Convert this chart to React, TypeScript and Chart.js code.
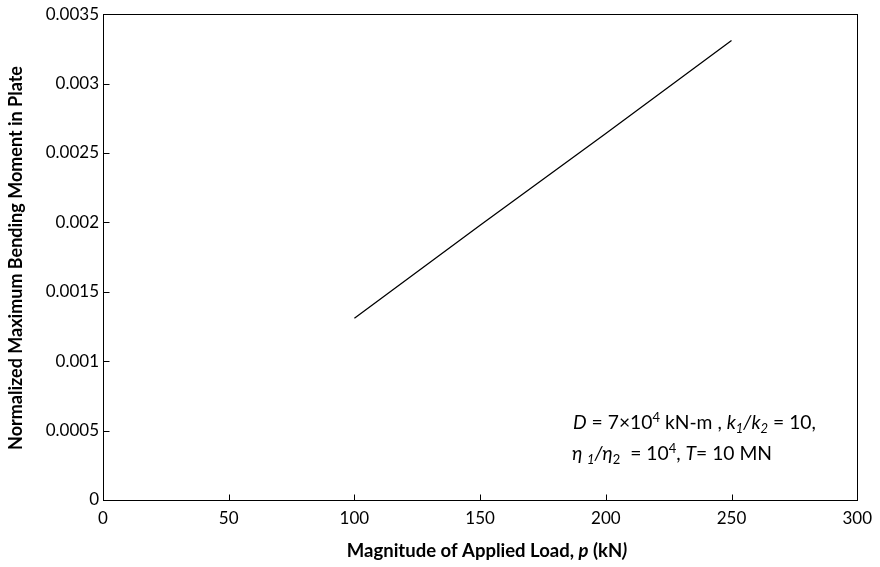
import React, { useEffect, useRef } from 'react';
import { Chart, registerables } from 'chart.js';

Chart.register(...registerables);

const loadKN = [100, 150, 200, 250];
const normMoment = [0.00131, 0.00198, 0.00264, 0.00331];
const xTickValues = [0, 50, 100, 150, 200, 250, 300];
const yTickValues = [0, 0.0005, 0.001, 0.0015, 0.002, 0.0025, 0.003, 0.0035];
const yTickLabels = ['0', '0.0005', '0.001', '0.0015', '0.002', '0.0025', '0.003', '0.0035'];

const FONT = 'Lato, "Open Sans", sans-serif';

type Seg = { t: string; i?: boolean; b?: boolean; s?: 'sup' | 'sub' };

const xTitle: Seg[] = [
  { t: 'Magnitude of Applied Load, ', b: true },
  { t: 'p', b: true, i: true },
  { t: ' (kN', b: true },
  { t: ')', b: true, i: true },
];
const yTitle = 'Normalized Maximum Bending Moment in Plate';
const noteLine1: Seg[] = [
  { t: 'D', i: true },
  { t: ' = 7×10' },
  { t: '4', s: 'sup' },
  { t: ' kN-m , ' },
  { t: 'k', i: true },
  { t: '1', i: true, s: 'sub' },
  { t: '/k', i: true },
  { t: '2', i: true, s: 'sub' },
  { t: ' = 10,' },
];
const noteLine2: Seg[] = [
  { t: 'η ', i: true },
  { t: '1', i: true, s: 'sub' },
  { t: '/η', i: true },
  { t: '2', s: 'sub' },
  { t: '  = 10' },
  { t: '4', s: 'sup' },
  { t: ', ' },
  { t: 'T', i: true },
  { t: '= 10 MN' },
];

function segFont(seg: Seg, size: number) {
  const sz = seg.s ? Math.round(size * 0.68) : size;
  return `${seg.i ? 'italic ' : ''}${seg.b ? 'bold ' : ''}${sz}px ${FONT}`;
}

function measureRich(ctx: CanvasRenderingContext2D, segs: Seg[], size: number) {
  let w = 0;
  for (const s of segs) {
    ctx.font = segFont(s, size);
    w += ctx.measureText(s.t).width;
  }
  return w;
}

function drawRich(ctx: CanvasRenderingContext2D, segs: Seg[], x: number, y: number, size: number) {
  ctx.textBaseline = 'alphabetic';
  ctx.textAlign = 'left';
  let cx = x;
  for (const s of segs) {
    ctx.font = segFont(s, size);
    let dy = 0;
    if (s.s === 'sup') dy = -size * 0.38;
    if (s.s === 'sub') dy = size * 0.2;
    ctx.fillText(s.t, cx, y + dy);
    cx += ctx.measureText(s.t).width;
  }
}

const decorPlugin = {
  id: 'decor',
  afterDraw(chart: any) {
    const ctx: CanvasRenderingContext2D = chart.ctx;
    const { left, right, top, bottom } = chart.chartArea;
    const xs = chart.scales.x;
    const ys = chart.scales.y;
    ctx.save();
    ctx.strokeStyle = '#000';
    ctx.lineWidth = 1;
    const L = Math.round(left) + 0.5;
    const R = Math.round(right) + 0.5;
    const T = Math.round(top) + 0.5;
    const B = Math.round(bottom) + 0.5;
    ctx.strokeRect(L, T, R - L, B - T);
    ctx.beginPath();
    for (const v of xTickValues) {
      const px = Math.round(xs.getPixelForValue(v)) + 0.5;
      ctx.moveTo(px, B);
      ctx.lineTo(px, B - 6);
    }
    for (const v of yTickValues) {
      const py = Math.round(ys.getPixelForValue(v)) + 0.5;
      ctx.moveTo(L, py);
      ctx.lineTo(L + 6, py);
    }
    ctx.stroke();

    ctx.fillStyle = '#000';
    // x title
    const xw = measureRich(ctx, xTitle, 18.5);
    drawRich(ctx, xTitle, 487 - xw / 2, 557, 18.5);
    // y title
    ctx.save();
    ctx.translate(22, 258);
    ctx.rotate(-Math.PI / 2);
    ctx.font = `bold 18px ${FONT}`;
    ctx.textAlign = 'center';
    ctx.textBaseline = 'alphabetic';
    ctx.fillText(yTitle, 0, 0);
    ctx.restore();
    // annotation
    drawRich(ctx, noteLine1, 573, 429, 19.3);
    drawRich(ctx, noteLine2, 572, 460, 19.3);
    ctx.restore();
  },
};

export default function App() {
  const ref = useRef<HTMLCanvasElement | null>(null);
  useEffect(() => {
    document.body.style.margin = '0';
    const canvas = ref.current!;
    const chart = new Chart(canvas, {
      type: 'line',
      data: {
        datasets: [
          {
            data: loadKN.map((x, i) => ({ x, y: normMoment[i] })),
            borderColor: '#000',
            borderWidth: 1.3,
            pointRadius: 0,
            fill: false,
            tension: 0,
          },
        ],
      },
      options: {
        animation: false,
        responsive: false,
        devicePixelRatio: 1,
        layout: { padding: { top: 14, right: 22, left: 0, bottom: 0 } },
        plugins: { legend: { display: false }, tooltip: { enabled: false } },
        scales: {
          x: {
            type: 'linear',
            min: 0,
            max: 300,
            afterFit: (s: any) => {
              s.height = 67;
            },
            afterBuildTicks: (s: any) => {
              s.ticks = xTickValues.map((v) => ({ value: v }));
            },
            ticks: { color: '#000', font: { family: FONT, size: 17 }, padding: 8, maxRotation: 0 },
            grid: { display: false, drawTicks: false },
            border: { display: false },
          },
          y: {
            type: 'linear',
            min: 0,
            max: 0.0035,
            afterFit: (s: any) => {
              s.width = 103;
            },
            afterBuildTicks: (s: any) => {
              s.ticks = yTickValues.map((v) => ({ value: v }));
            },
            ticks: {
              color: '#000',
              font: { family: FONT, size: 17 },
              padding: 4,
              callback: (v: any) => {
                const idx = yTickValues.findIndex((t) => Math.abs(t - Number(v)) < 1e-9);
                return idx >= 0 ? yTickLabels[idx] : '';
              },
            },
            grid: { display: false, drawTicks: false },
            border: { display: false },
          },
        },
      },
      plugins: [decorPlugin],
    });
    return () => chart.destroy();
  }, []);
  return (
    <div style={{ width: 880, height: 567 }}>
      <canvas ref={ref} width={880} height={567} style={{ display: 'block' }} />
    </div>
  );
}
